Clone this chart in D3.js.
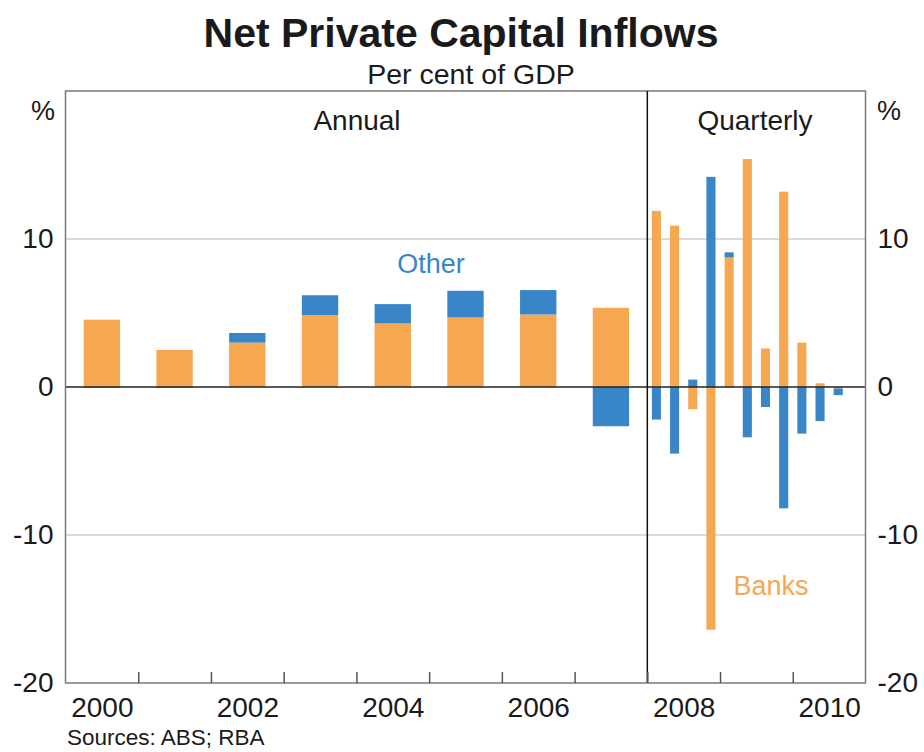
<!DOCTYPE html>
<html>
<head>
<meta charset="utf-8">
<script src="https://cdn.jsdelivr.net/npm/d3@7"></script>
<style>
  body { margin: 0; background: #fff; }
  svg { display: block; font-family: Arial, "Liberation Sans", Helvetica, sans-serif; }
</style>
</head>
<body>
<svg width="924" height="752"></svg>
<script>
// data (per cent of GDP)
const years = [2000, 2001, 2002, 2003, 2004, 2005, 2006, 2007]
const banksAnnual = [4.55, 2.5, 3.0, 4.85, 4.3, 4.7, 4.9, 5.35]
const otherAnnual = [-0.05, -0.05, 0.65, 1.35, 1.3, 1.8, 1.65, -2.65]

const quarterSlots = ['2008Q1', '2008Q2', '2008Q3', '2008Q4', '2009Q1', '2009Q2', '2009Q3', '2009Q4', '2010Q1', '2010Q2', '2010Q3', '2010Q4']
const quarters = ['2008Q1', '2008Q2', '2008Q3', '2008Q4', '2009Q1', '2009Q2', '2009Q3', '2009Q4', '2010Q1', '2010Q2', '2010Q3']
const banksQuarterly = [11.9, 10.9, -1.5, -16.4, 8.75, 15.4, 2.6, 13.2, 3.0, 0.25, -0.1]
const otherQuarterly = [-2.2, -4.5, 0.5, 14.2, 0.35, -3.4, -1.35, -8.2, -3.15, -2.3, -0.45]

const yTicks = [-20, -10, 0, 10]
const gridValues = [-10, 10]
const yearTicks = [2001, 2002, 2003, 2004, 2005, 2006, 2007, 2008, 2009, 2010]
const yearLabels = [2000, 2002, 2004, 2006, 2008, 2010]

const orange = '#f6a851'
const blue = '#3886c8'

const svg = d3.select('svg')
const plotLeft = 65.5, plotRight = 865.5, plotTop = 91, plotBottom = 683

const xYear = d3.scaleLinear().domain([2000, 2011]).range([plotLeft, plotRight])
const y = d3.scaleLinear().domain([-20, 20]).range([plotBottom, plotTop])

const xAnnual = d3.scaleBand().domain(years).range([plotLeft, xYear(2008)]).paddingInner(0.5).paddingOuter(0.25)
const xQuarter = d3.scaleBand().domain(quarterSlots).range([xYear(2008), plotRight]).paddingInner(0.5).paddingOuter(0.25)

// titles
svg.append('text').attr('x', 461).attr('y', 47).attr('text-anchor', 'middle')
    .attr('font-size', 41).attr('font-weight', 'bold').attr('fill', '#1a1a1a')
    .text('Net Private Capital Inflows')
svg.append('text').attr('x', 471).attr('y', 84).attr('text-anchor', 'middle')
    .attr('font-size', 28.5).attr('fill', '#1a1a1a')
    .text('Per cent of GDP')

// grid lines
svg.selectAll('.grid')
    .data(gridValues)
    .enter()
    .append('line')
    .attr('x1', plotLeft).attr('x2', plotRight)
    .attr('y1', d => y(d)).attr('y2', d => y(d))
    .attr('stroke', '#cfcfcf').attr('stroke-width', 1.5)

// stacked bars
const stackIt = d3.stack().keys(['banks', 'other']).offset(d3.stackOffsetDiverging)

const annualRows = years.map((yr, i) => ({ key: yr, banks: banksAnnual[i], other: otherAnnual[i] }))
const quarterRows = quarters.map((q, i) => ({ key: q, banks: banksQuarterly[i], other: otherQuarterly[i] }))

const drawBars = (rows, xScale) => {
    const series = stackIt(rows)
    svg.append('g')
        .selectAll('g')
        .data(series)
        .enter()
        .append('g')
        .attr('fill', s => s.key === 'banks' ? orange : blue)
        .selectAll('rect')
        .data(s => s)
        .enter()
        .append('rect')
        .attr('x', d => xScale(d.data.key))
        .attr('width', xScale.bandwidth())
        .attr('y', d => y(Math.max(d[0], d[1])))
        .attr('height', d => Math.abs(y(d[0]) - y(d[1])))
}
drawBars(annualRows, xAnnual)
drawBars(quarterRows, xQuarter)

// zero line
svg.append('line')
    .attr('x1', plotLeft).attr('x2', plotRight)
    .attr('y1', y(0)).attr('y2', y(0))
    .attr('stroke', '#222').attr('stroke-width', 1.5)

// frame
svg.append('rect')
    .attr('x', plotLeft).attr('y', plotTop)
    .attr('width', plotRight - plotLeft).attr('height', plotBottom - plotTop)
    .attr('fill', 'none').attr('stroke', '#7a7a7a').attr('stroke-width', 1.5)

// divider between annual and quarterly
svg.append('line')
    .attr('x1', xYear(2008)).attr('x2', xYear(2008))
    .attr('y1', plotTop).attr('y2', plotBottom)
    .attr('stroke', '#111').attr('stroke-width', 1.5)

// bottom axis: year boundary ticks pointing up
const xAxis = d3.axisBottom(xYear).tickValues(yearTicks).tickSize(-11).tickFormat('')
const gx = svg.append('g')
    .attr('transform', 'translate(0,' + plotBottom + ')')
    .call(xAxis)
gx.select('.domain').remove()
gx.selectAll('line').attr('stroke', '#555').attr('stroke-width', 1.5)

// year labels centred in their year
const xLabels = d3.axisBottom(xYear).tickValues(yearLabels.map(v => v + 0.5)).tickSize(0).tickPadding(14)
    .tickFormat(v => String(Math.floor(v)))
const gxl = svg.append('g')
    .attr('transform', 'translate(0,' + plotBottom + ')')
    .call(xLabels)
gxl.select('.domain').remove()
gxl.selectAll('text').attr('font-size', 28).attr('font-family', null).attr('fill', '#1a1a1a').attr('dy', '0.72em')

// left and right value axes (plain hyphen for negatives, as in the original)
const yLeft = d3.axisLeft(y).tickValues(yTicks).tickSize(0).tickPadding(12).tickFormat(v => String(v))
const gyl = svg.append('g').attr('transform', 'translate(' + plotLeft + ',0)').call(yLeft)
gyl.select('.domain').remove()
gyl.selectAll('text').attr('font-size', 28).attr('font-family', null).attr('fill', '#1a1a1a')

const yRight = d3.axisRight(y).tickValues(yTicks).tickSize(0).tickPadding(12).tickFormat(v => String(v))
const gyr = svg.append('g').attr('transform', 'translate(' + plotRight + ',0)').call(yRight)
gyr.select('.domain').remove()
gyr.selectAll('text').attr('font-size', 28).attr('font-family', null).attr('fill', '#1a1a1a')

// unit labels
svg.append('text').attr('x', 43).attr('y', 120).attr('text-anchor', 'middle')
    .attr('font-size', 27).attr('fill', '#1a1a1a').text('%')
svg.append('text').attr('x', 889).attr('y', 120).attr('text-anchor', 'middle')
    .attr('font-size', 27).attr('fill', '#1a1a1a').text('%')

// section labels
svg.append('text').attr('x', 357).attr('y', 130).attr('text-anchor', 'middle')
    .attr('font-size', 28).attr('fill', '#1a1a1a').text('Annual')
svg.append('text').attr('x', 755).attr('y', 130).attr('text-anchor', 'middle')
    .attr('font-size', 28).attr('fill', '#1a1a1a').text('Quarterly')

// series labels
svg.append('text').attr('x', 431).attr('y', 273).attr('text-anchor', 'middle')
    .attr('font-size', 27).attr('fill', blue).text('Other')
svg.append('text').attr('x', 771).attr('y', 595).attr('text-anchor', 'middle')
    .attr('font-size', 27).attr('fill', orange).text('Banks')

// source note
svg.append('text').attr('x', 67).attr('y', 745)
    .attr('font-size', 22.5).attr('fill', '#1a1a1a').text('Sources: ABS; RBA')
</script>
</body>
</html>
